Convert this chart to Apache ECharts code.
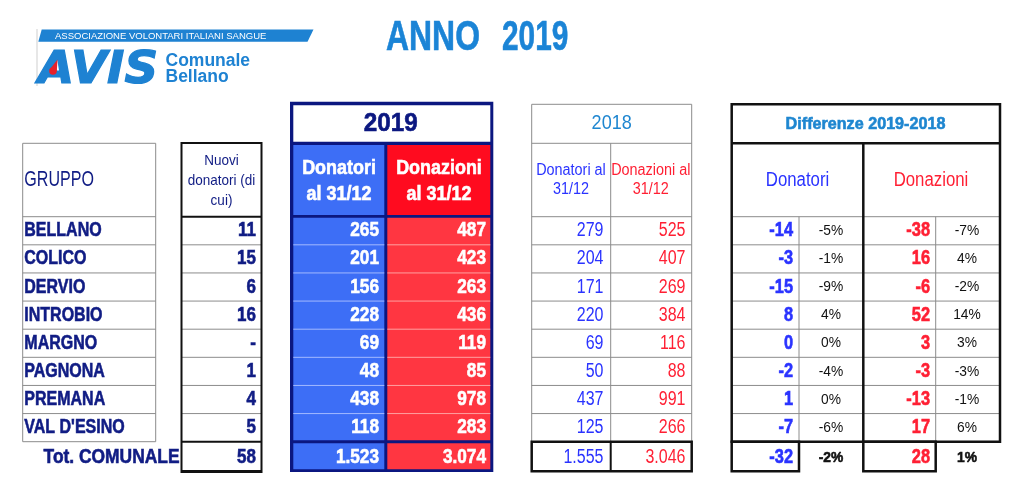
<!DOCTYPE html>
<html><head><meta charset="utf-8">
<script src="https://cdn.jsdelivr.net/npm/echarts@6/dist/echarts.min.js"></script>
<style>html,body{margin:0;padding:0;background:#fff}#c{width:1024px;height:496px}</style>
</head><body><div id="c"></div>
<script>
// ---------- DATA ----------
const groups = ['BELLANO', 'COLICO', 'DERVIO', 'INTROBIO', 'MARGNO', 'PAGNONA', 'PREMANA', "VAL D'ESINO"];
const nuoviDonatori = [11, 15, 6, 16, null, 1, 4, 5];
const donatori2019 = [265, 201, 156, 228, 69, 48, 438, 118];
const donazioni2019 = [487, 423, 263, 436, 119, 85, 978, 283];
const donatori2018 = [279, 204, 171, 220, 69, 50, 437, 125];
const donazioni2018 = [525, 407, 269, 384, 116, 88, 991, 266];
const diffDonatori = [-14, -3, -15, 8, 0, -2, 1, -7];
const diffDonatoriPct = [-5, -1, -9, 4, 0, -4, 0, -6];
const diffDonazioni = [-38, 16, -6, 52, 3, -3, -13, 17];
const diffDonazioniPct = [-7, 4, -2, 14, 3, -3, -1, 6];
const totLabel = 'Tot. COMUNALE';
const totNuovi = 58;
const totDonatori2019 = 1523, totDonazioni2019 = 3074;
const totDonatori2018 = 1555, totDonazioni2018 = 3046;
const totDiffDonatori = -32, totDiffDonatoriPct = -2;
const totDiffDonazioni = 28, totDiffDonazioniPct = 1;

// ---------- LAYOUT / STYLE ----------
const FF = "'Liberation Sans', Arial, Helvetica, sans-serif";
const NAVY_TXT = '#101c84', NAVY = '#0b1780', BLUE_FILL = '#3d6ef6', RED_HEAD = '#ff0b1f', RED_FILL = '#ff3641';
const T2018 = '#1e86d0', BLUE_TXT = '#2a33ff', RED_TXT = '#ff1f33', GRAY = '#8c8c8c', BLACK = '#111';
const ROW0 = 216.7, RH = 28.125;
const rowY = k => ROW0 + k * RH;
const rowC = i => ROW0 + (i + 0.5) * RH;
const TOT_C = 457.3;
const fmt = n => String(n).replace(/\B(?=(\d{3})+(?!\d))/g, '.');
const pct = n => n + '%';

const S = [];
const rect = (x0, y0, x1, y1, fill, stroke, lw) => S.push({t: 'rect', x0, y0, x1, y1, fill, stroke, lw});
const line = (x0, y0, x1, y1, stroke, lw) => S.push({t: 'line', x0, y0, x1, y1, stroke, lw});
const text = (x, y, str, o) => S.push(Object.assign({t: 'text', x, y, str}, o));

// GRUPPO block
rect(22.7, 143.3, 155.7, 441.7, null, GRAY, 1);
for (let k = 0; k < 8; k++) line(22.7, rowY(k), 155.7, rowY(k), GRAY, 1);
text(24.3, 180, 'GRUPPO', {size: 22, color: NAVY_TXT, align: 'left', sx: 0.73});
groups.forEach((g, i) => text(24.3, rowC(i), g, {size: 20, bold: true, color: NAVY_TXT, align: 'left', sx: 0.8}));
text(179.5, TOT_C, totLabel, {size: 20, bold: true, color: NAVY_TXT, align: 'right', sx: 0.87});

// Nuovi donatori block
for (let k = 1; k < 8; k++) line(181.5, rowY(k), 261.5, rowY(k), GRAY, 1);
line(181.5, 143, 261.5, 143, BLACK, 2);
line(181.5, 216.7, 261.5, 216.7, BLACK, 2);
line(181.5, 441.7, 261.5, 441.7, BLACK, 2);
line(181.5, 471.5, 261.5, 471.5, BLACK, 3);
line(181.5, 142, 181.5, 473, BLACK, 2);
line(261.5, 142, 261.5, 473, BLACK, 2);
text(221.5, 181, 'Nuovi\ndonatori (di\ncui)', {size: 15, color: NAVY_TXT, align: 'center', sx: 0.9, lh: 19.7});
nuoviDonatori.forEach((v, i) => text(256, rowC(i), v == null ? '-' : String(v), {size: 20, bold: true, color: NAVY_TXT, align: 'right', sx: 0.85}));
text(256, TOT_C, String(totNuovi), {size: 20, bold: true, color: NAVY_TXT, align: 'right', sx: 0.85});

// 2019 block
rect(290, 101.7, 493.3, 472, NAVY);
rect(293.3, 105.3, 490.3, 141.7, '#fff');
rect(293.3, 145, 384.3, 215, BLUE_FILL);
rect(387.3, 145, 490.3, 215, RED_HEAD);
rect(293.3, 217.7, 384.3, 440.3, BLUE_FILL);
rect(387.3, 217.7, 490.3, 440.3, RED_FILL);
for (let k = 1; k < 8; k++) {
  line(293.3, rowY(k), 384.3, rowY(k), '#a3b9ff', 1);
  line(387.3, rowY(k), 490.3, rowY(k), '#ffa0a0', 1);
}
rect(293.3, 443.3, 384.3, 469.3, BLUE_FILL);
rect(387.3, 443.3, 490.3, 469.3, RED_FILL);
text(390.8, 124, '2019', {size: 25, bold: true, color: NAVY, align: 'center', sx: 0.97});
text(339, 181.3, 'Donatori\nal 31/12', {size: 19.5, bold: true, color: '#fff', align: 'center', sx: 0.92, lh: 26});
text(439, 181.3, 'Donazioni\nal 31/12', {size: 19.5, bold: true, color: '#fff', align: 'center', sx: 0.92, lh: 26});
donatori2019.forEach((v, i) => text(379, rowC(i), fmt(v), {size: 20, bold: true, color: '#fff', align: 'right', sx: 0.86}));
donazioni2019.forEach((v, i) => text(486, rowC(i), fmt(v), {size: 20, bold: true, color: '#fff', align: 'right', sx: 0.86}));
text(379, TOT_C, fmt(totDonatori2019), {size: 20, bold: true, color: '#fff', align: 'right', sx: 0.86});
text(486, TOT_C, fmt(totDonazioni2019), {size: 20, bold: true, color: '#fff', align: 'right', sx: 0.86});

// 2018 block
rect(531.7, 104.3, 691.7, 441.7, null, GRAY, 1);
line(531.7, 143.3, 691.7, 143.3, GRAY, 1);
for (let k = 0; k < 8; k++) line(531.7, rowY(k), 691.7, rowY(k), GRAY, 1);
line(610.7, 143.3, 610.7, 441.7, GRAY, 1);
rect(531.7, 441.7, 691.7, 471.2, null, BLACK, 2.5);
line(610.7, 441.7, 610.7, 471.2, BLACK, 2);
text(611.7, 123.5, '2018', {size: 21, color: T2018, align: 'center', sx: 0.86});
text(571, 180.2, 'Donatori al\n31/12', {size: 16, color: BLUE_TXT, align: 'center', sx: 0.9, lh: 18.5});
text(650.8, 180.2, 'Donazioni al\n31/12', {size: 16, color: RED_TXT, align: 'center', sx: 0.9, lh: 18.5});
donatori2018.forEach((v, i) => text(603.5, rowC(i), fmt(v), {size: 20, color: BLUE_TXT, align: 'right', sx: 0.8}));
donazioni2018.forEach((v, i) => text(685.5, rowC(i), fmt(v), {size: 20, color: RED_TXT, align: 'right', sx: 0.8}));
text(603.5, TOT_C, fmt(totDonatori2018), {size: 20, color: BLUE_TXT, align: 'right', sx: 0.8});
text(685.5, TOT_C, fmt(totDonazioni2018), {size: 20, color: RED_TXT, align: 'right', sx: 0.8});

// Differenze block
for (let k = 0; k <= 8; k++) line(731.7, rowY(k), 1000, rowY(k), GRAY, 1);
line(799, 216.7, 799, 441.7, GRAY, 1);
line(935.7, 216.7, 935.7, 441.7, GRAY, 1);
rect(731.7, 104.3, 1000, 441.7, null, BLACK, 2.5);
line(731.7, 143.3, 1000, 143.3, BLACK, 2.5);
line(863.3, 143.3, 863.3, 441.7, BLACK, 2.5);
rect(731.7, 441.7, 799, 471.2, null, BLACK, 2.5);
rect(863.3, 441.7, 935.7, 471.2, null, BLACK, 2.5);
text(865.5, 124, 'Differenze 2019-2018', {size: 17, bold: true, color: T2018, align: 'center', sx: 0.95});
text(797.5, 180, 'Donatori', {size: 20, color: BLUE_TXT, align: 'center', sx: 0.84});
text(931, 180, 'Donazioni', {size: 20, color: RED_TXT, align: 'center', sx: 0.84});
diffDonatori.forEach((v, i) => text(793, rowC(i), String(v), {size: 20, bold: true, color: BLUE_TXT, align: 'right', sx: 0.82}));
diffDonatoriPct.forEach((v, i) => text(831, rowC(i), pct(v), {size: 15, color: BLACK, align: 'center', sx: 0.92}));
diffDonazioni.forEach((v, i) => text(930, rowC(i), String(v), {size: 20, bold: true, color: RED_TXT, align: 'right', sx: 0.82}));
diffDonazioniPct.forEach((v, i) => text(967, rowC(i), pct(v), {size: 15, color: BLACK, align: 'center', sx: 0.92}));
text(793, TOT_C, String(totDiffDonatori), {size: 20, bold: true, color: BLUE_TXT, align: 'right', sx: 0.82});
text(831, TOT_C + 1, pct(totDiffDonatoriPct), {size: 15, bold: true, color: BLACK, align: 'center', sx: 0.92});
text(930, TOT_C, String(totDiffDonazioni), {size: 20, bold: true, color: RED_TXT, align: 'right', sx: 0.82});
text(967, TOT_C + 1, pct(totDiffDonazioniPct), {size: 15, bold: true, color: BLACK, align: 'center', sx: 0.92});

// Title
text(386, 38.5, 'ANNO', {size: 42, bold: true, color: '#1b84d6', align: 'left', sx: 0.76});
text(502, 38.5, '2019', {size: 42, bold: true, color: '#1b84d6', align: 'left', sx: 0.71});

// ---------- CHART ----------
const chart = echarts.init(document.getElementById('c'));
const LOGO = '#1e82d2';
chart.setOption({
  animation: false,
  grid: {left: 0, right: 0, top: 0, bottom: 0},
  xAxis: {type: 'value', min: 0, max: 1024, show: false},
  yAxis: {type: 'value', min: 0, max: 496, inverse: true, show: false},
  graphic: [
    {type: 'line', shape: {x1: 37, y1: 29, x2: 37, y2: 86}, style: {stroke: '#cfcfcf', lineWidth: 1}},
    {type: 'polygon', shape: {points: [[41.7, 29.5], [313.5, 29.5], [307.5, 41.7], [38.3, 41.7]]}, style: {fill: LOGO}},
    {type: 'text', x: 55, y: 36, style: {text: 'ASSOCIAZIONE VOLONTARI ITALIANI SANGUE', fill: '#fff', fontSize: 9.5, fontFamily: FF, verticalAlign: 'middle'}},
    {type: 'text', x: 38, y: 71.5, scaleX: 1.06, style: {text: 'AVIS', fill: LOGO, stroke: LOGO, lineWidth: 1.2, fontSize: 44, fontWeight: 'bold', fontStyle: 'italic', fontFamily: "'DejaVu Sans', sans-serif", verticalAlign: 'middle'}},
    {type: 'circle', shape: {cx: 53, cy: 71, r: 3.8}, style: {fill: '#e8202a'}},
    {type: 'polygon', shape: {points: [[57.5, 59.5], [56.8, 71], [49.3, 70]]}, style: {fill: '#e8202a'}},
    {type: 'text', x: 165.5, y: 61, style: {text: 'Comunale', fill: LOGO, fontSize: 17.5, fontWeight: 'bold', fontFamily: FF, verticalAlign: 'middle'}},
    {type: 'text', x: 165.5, y: 77.5, style: {text: 'Bellano', fill: LOGO, fontSize: 17.5, fontWeight: 'bold', fontFamily: FF, verticalAlign: 'middle'}}
  ],
  series: [{
    type: 'custom',
    coordinateSystem: 'cartesian2d',
    silent: true,
    clip: false,
    data: S.map((s, i) => [i, 0]),
    renderItem: function (params, api) {
      const s = S[params.dataIndex];
      if (s.t === 'rect') {
        const a = api.coord([s.x0, s.y0]), b = api.coord([s.x1, s.y1]);
        return {type: 'rect', shape: {x: a[0], y: a[1], width: b[0] - a[0], height: b[1] - a[1]},
          style: {fill: s.fill || 'none', stroke: s.stroke || null, lineWidth: s.lw || 0}};
      }
      if (s.t === 'line') {
        const a = api.coord([s.x0, s.y0]), b = api.coord([s.x1, s.y1]);
        return {type: 'line', shape: {x1: a[0], y1: a[1], x2: b[0], y2: b[1]}, style: {stroke: s.stroke, lineWidth: s.lw}};
      }
      const p = api.coord([s.x, s.y]);
      const st = {text: s.str, fill: s.color, fontSize: s.size, fontWeight: s.bold ? 'bold' : 'normal',
        fontFamily: FF, align: s.align, verticalAlign: 'middle', lineHeight: s.lh || undefined};
      if (s.bold) { st.stroke = s.color; st.lineWidth = 0.6; }
      return {type: 'text', x: p[0], y: p[1], scaleX: s.sx || 1, style: st};
    }
  }]
});
</script>
</body></html>
